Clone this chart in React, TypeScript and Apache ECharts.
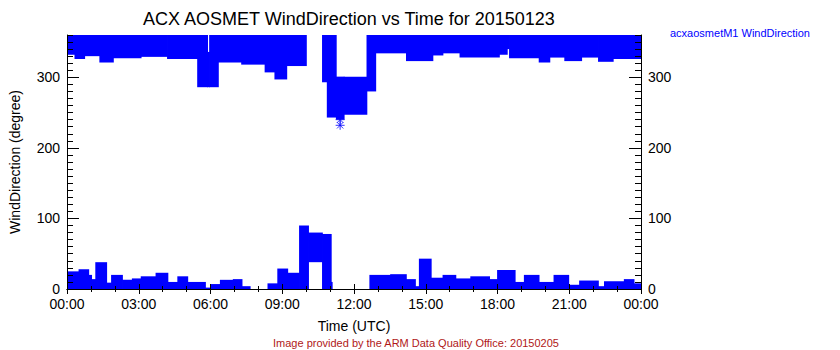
import React, { useEffect, useRef } from "react";
import * as echarts from "echarts";

// Time axis (hours UTC) tick positions
const degreeTicks = [0, 100, 200, 300];

// Upper band segments near 360 degrees: [startHour, endHour, low, high]
const upperBand: number[][] = [
  [0.0, 0.33, 332, 360],
  [0.33, 0.74, 326, 360],
  [0.74, 1.37, 330, 360],
  [1.37, 1.94, 321, 360],
  [1.94, 3.1, 327, 360],
  [3.1, 4.2, 329, 360],
  [4.2, 5.46, 326, 360],
  [5.46, 5.88, 286, 360],
  [5.88, 5.96, 286, 336],
  [5.96, 6.33, 286, 360],
  [6.33, 7.3, 321, 360],
  [7.3, 8.28, 318, 360],
  [8.28, 8.69, 307, 360],
  [8.69, 9.19, 297, 360],
  [9.19, 10.01, 316, 360],
  [10.68, 10.88, 293, 360],
  [10.88, 11.26, 243, 360],
  [11.26, 11.59, 240, 301],
  [11.59, 12.54, 247, 301],
  [12.54, 12.91, 280, 360],
  [12.91, 14.19, 334, 360],
  [14.19, 15.3, 323, 360],
  [15.3, 15.72, 331, 360],
  [15.72, 16.43, 334, 360],
  [16.43, 18.08, 328, 360],
  [18.08, 18.41, 332, 360],
  [18.41, 18.5, 340, 360],
  [18.5, 19.74, 327, 360],
  [19.74, 20.19, 321, 360],
  [20.19, 20.81, 328, 360],
  [20.81, 21.52, 323, 360],
  [21.52, 22.22, 328, 360],
  [22.22, 22.84, 322, 360],
  [22.84, 24.0, 326, 360],
];

// Lower band segments near 0 degrees: [startHour, endHour, low, high]
const lowerBand: number[][] = [
  [0.0, 0.5, 0, 25],
  [0.5, 0.91, 0, 28],
  [0.91, 1.03, 0, 20],
  [1.03, 1.2, 0, 14],
  [1.2, 1.66, 0, 38],
  [1.66, 1.86, 0, 9],
  [1.86, 2.32, 0, 20],
  [2.32, 2.73, 0, 13],
  [2.73, 3.1, 0, 15],
  [3.1, 3.72, 0, 18],
  [3.72, 4.22, 0, 23],
  [4.22, 4.63, 0, 10],
  [4.63, 5.05, 0, 18],
  [5.05, 5.79, 0, 10],
  [5.79, 6.0, 0, 2],
  [6.0, 6.41, 0, 7],
  [6.41, 6.95, 0, 13],
  [6.95, 7.32, 0, 14],
  [7.32, 7.66, 0, 4],
  [8.4, 8.81, 0, 8],
  [8.81, 9.23, 0, 29],
  [9.23, 9.72, 0, 23],
  [9.72, 10.1, 0, 90],
  [10.1, 10.68, 38, 80],
  [10.68, 11.05, 0, 78],
  [11.05, 11.09, 0, 10],
  [12.66, 13.53, 0, 20],
  [13.53, 14.19, 0, 21],
  [14.19, 14.57, 0, 14],
  [14.57, 14.73, 0, 4],
  [14.73, 15.23, 0, 43],
  [15.23, 15.72, 0, 16],
  [15.72, 16.26, 0, 20],
  [16.26, 16.88, 0, 15],
  [16.88, 17.67, 0, 18],
  [17.67, 18.0, 0, 14],
  [18.0, 18.74, 0, 27],
  [18.74, 19.12, 0, 10],
  [19.12, 19.74, 0, 20],
  [19.74, 20.36, 0, 10],
  [20.36, 20.98, 0, 20],
  [20.98, 21.43, 0, 6],
  [21.43, 22.22, 0, 12],
  [22.22, 22.47, 0, 4],
  [22.47, 23.3, 0, 11],
  [23.3, 23.71, 0, 14],
  [23.71, 24.0, 0, 8],
];

// Isolated asterisk points
const outliers: number[][] = [
  [11.42, 232],
  [11.42, 240],
];

const BLUE = "#0000ff";
const FONT = "Liberation Sans";

export default function App() {
  const ref = useRef<HTMLDivElement>(null);

  useEffect(() => {
    document.body.style.margin = "0";
    if (!ref.current) return;
    const chart = echarts.init(ref.current, undefined, { renderer: "svg" });

    const renderItem = (params: any, api: any) => {
      const t0 = api.value(0);
      const t1 = api.value(1);
      const lo = api.value(2);
      const hi = api.value(3);
      const p0 = api.coord([t0, hi]);
      const p1 = api.coord([t1, lo]);
      return {
        type: "rect",
        shape: {
          x: p0[0] - 0.4,
          y: p0[1],
          width: p1[0] - p0[0] + 0.8,
          height: p1[1] - p0[1],
        },
        style: { fill: BLUE },
      };
    };

    const xFmt = (v: number) => String(v % 24).padStart(2, "0") + ":00";

    const baseX = {
      type: "value",
      min: 0,
      max: 24,
      interval: 3,
      z: 10,
      axisLine: { show: true, lineStyle: { color: "#000", width: 1 } },
      axisTick: { show: true, inside: true, length: 5, lineStyle: { color: "#000" } },
      minorTick: { show: true, splitNumber: 3, length: 3, lineStyle: { color: "#000" } },
      splitLine: { show: false },
      minorSplitLine: { show: false },
    };

    const yMajor = (pos: string, labels: boolean) => ({
      type: "value",
      position: pos,
      min: 0,
      max: 360,
      interval: 100,
      z: 10,
      axisLine: { show: true, lineStyle: { color: "#000", width: 1 } },
      axisTick: { show: true, inside: true, length: 12, lineStyle: { color: "#000" } },
      axisLabel: {
        show: labels,
        showMaxLabel: false,
        fontFamily: FONT,
        fontSize: 14,
        color: "#000",
        margin: 7,
        formatter: (v: number) => (degreeTicks.includes(v) ? String(v) : ""),
      },
      splitLine: { show: false },
    });

    const yMinor = (pos: string) => ({
      type: "value",
      position: pos,
      min: 0,
      max: 360,
      interval: 10,
      z: 10,
      axisLine: { show: false },
      axisTick: { show: true, inside: true, length: 6, lineStyle: { color: "#000" } },
      axisLabel: { show: false },
      splitLine: { show: false },
    });

    chart.setOption({
      animation: false,
      grid: { left: 60, right: 199, top: 35, bottom: 61, containLabel: false },
      xAxis: [
        {
          ...baseX,
          position: "bottom",
          axisLabel: {
            show: true,
            fontFamily: FONT,
            fontSize: 14,
            color: "#000",
            margin: 8,
            formatter: xFmt,
          },
          name: "Time (UTC)",
          nameLocation: "middle",
          nameGap: 30,
          nameTextStyle: { fontFamily: FONT, fontSize: 14, color: "#000" },
        },
        { ...baseX, position: "top", axisLabel: { show: false } },
      ],
      yAxis: [
        {
          ...yMajor("left", true),
          name: "WindDirection (degree)",
          nameLocation: "middle",
          nameGap: 45,
          nameRotate: 90,
          nameTextStyle: { fontFamily: FONT, fontSize: 14, color: "#000" },
        },
        yMinor("left"),
        yMajor("right", true),
        yMinor("right"),
      ],
      series: [
        {
          type: "custom",
          name: "upper",
          xAxisIndex: 0,
          yAxisIndex: 0,
          renderItem,
          encode: { x: [0, 1], y: [2, 3] },
          data: upperBand,
          clip: true,
        },
        {
          type: "custom",
          name: "lower",
          xAxisIndex: 0,
          yAxisIndex: 0,
          renderItem,
          encode: { x: [0, 1], y: [2, 3] },
          data: lowerBand,
          clip: true,
        },
        {
          type: "scatter",
          xAxisIndex: 0,
          yAxisIndex: 0,
          data: outliers,
          symbol: "path://M0,-5L0,5M-5,0L5,0M-3.5,-3.5L3.5,3.5M-3.5,3.5L3.5,-3.5",
          symbolSize: 9,
          itemStyle: { color: "none", borderColor: BLUE, borderWidth: 1 },
        },
      ],
      graphic: [
        {
          type: "text",
          left: 350 - 207,
          top: 10,
          style: {
            text: "ACX AOSMET WindDirection vs Time for 20150123",
            fontFamily: FONT,
            fontSize: 18,
            fill: "#000",
          },
        },
        {
          type: "text",
          left: 670,
          top: 27,
          style: {
            text: "acxaosmetM1 WindDirection",
            fontFamily: FONT,
            fontSize: 11,
            fill: BLUE,
          },
        },
        {
          type: "text",
          left: 273,
          top: 337,
          style: {
            text: "Image provided by the ARM Data Quality Office: 20150205",
            fontFamily: FONT,
            fontSize: 11,
            fill: "#b01818",
          },
        },
      ],
    });

    return () => chart.dispose();
  }, []);

  return <div ref={ref} style={{ width: 840, height: 350 }} />;
}
